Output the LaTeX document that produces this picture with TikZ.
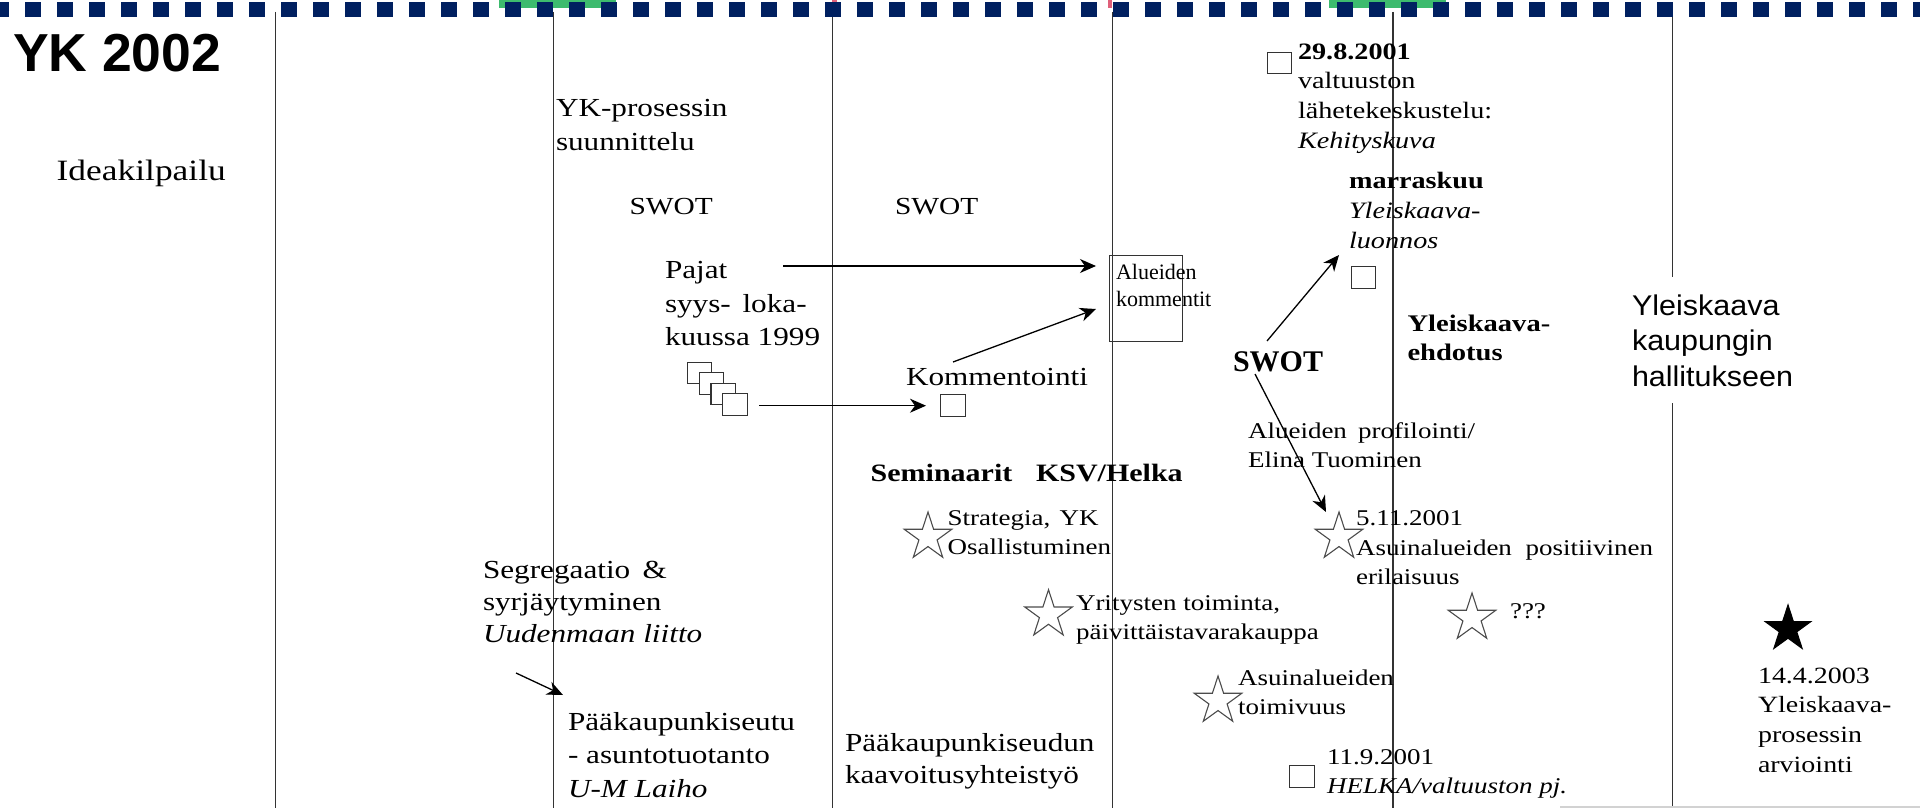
\documentclass[tikz,border=0pt]{standalone}
\usepackage{fontspec}
\setmainfont{Liberation Serif}[FakeStretch=1.2]
\newfontfamily\nrm{Liberation Serif}
\newfontfamily\ars{Liberation Sans}[FakeStretch=1.07]
\newfontfamily\arb{Liberation Sans}
\usetikzlibrary{arrows.meta,shapes.geometric}
\definecolor{navy}{HTML}{002060}
\definecolor{tabgreen}{HTML}{3DBB6E}
\definecolor{tabred}{HTML}{E0607A}
\definecolor{vline}{HTML}{333333}
\newcommand\fs[2]{\fontsize{#1pt}{#2pt}\selectfont}
\newcommand\vl[2]{\vtop{\baselineskip=#1pt\lineskiplimit=-100pt\lineskip=0pt #2}}
\tikzset{
  txt/.style={anchor=base west, inner sep=0pt, outer sep=0pt},
  colline/.style={draw=vline, line width=1.6pt},
  arr/.style={draw=black, line width=1.3pt, -{Stealth[length=16pt,width=14pt,inset=5pt]}},
  sqbox/.style={draw=black!80, line width=1.2pt, fill=white, minimum width=24.5pt, minimum height=21.5pt, inner sep=0pt, anchor=north west},
  ostar/.style={star, star points=5, star point ratio=2.618, minimum size=50pt, inner sep=0pt, draw=black!70, line width=1.1pt, fill=white},
  fstar/.style={ostar, fill=black, draw=black, minimum size=48pt},
  bigbox/.style={draw=black!80, line width=1.3pt, minimum width=73pt, minimum height=86pt, inner sep=0pt, anchor=north west}
}
\begin{document}
\begin{tikzpicture}[x=1pt,y=-1pt]
\useasboundingbox (0,0) rectangle (1920,808);
\fill[white] (0,0) rectangle (1920,808);
% top band
\fill[tabgreen] (499,0) rectangle (616,8.3);
\fill[tabgreen] (1329,0) rectangle (1446,8.3);
\fill[tabred] (1108,0) rectangle (1112,8);
\fill[tabred] (832,0) rectangle (837,3);
% column lines
\foreach \xx in {275.5,553.5,832.5,1112.5,1393} \draw[colline] (\xx,12) -- (\xx,808);
\draw[colline] (1672.5,12) -- (1672.5,277);
\draw[colline] (1672.5,403) -- (1672.5,808);
\foreach \k in {-1,...,59} \fill[navy] (24.5+32*\k,2) rectangle ++(16,15.5);
\draw[gray!35, line width=2pt] (1560,806.5) -- (1920,806.5);

% texts
\node[txt,font=\arb\bfseries\fs{53.5}{60}] (title) at (13,71.7) {YK 2002};
\node[txt,font=\fs{29.5}{34}] (idea) at (56.7,180) {Ideakilpailu};
\node[txt,font=\fs{26}{32}] (ykp) at (556,117) {\vl{33}{\hbox{YK-prosessin}\hbox{suunnittelu}}};
\node[txt,font=\fs{24.5}{30}] (swot1) at (629.5,214) {SWOT};
\node[txt,font=\fs{24.5}{30}] (swot2) at (895,214) {SWOT};
\node[txt,font=\fs{26}{32}] (pajat) at (665,278.3) {\vl{33.8}{\hbox{Pajat}\hbox{syys-\hspace{0.45em}loka-}\hbox{kuussa 1999}}};
\node[txt,font=\fs{26}{32}] (komm) at (906,385) {Kommentointi};

\node[bigbox] (box) at (1109,255) {};
\node[txt,font=\nrm\fs{22}{27}] (boxtxt) at (1116,279.3) {\vl{26.7}{\hbox{Alueiden}\hbox{kommentit}}};

\node[sqbox] (st1) at (686.6,361.7) {};
\node[sqbox] (st2) at (698.5,372.2) {};
\node[sqbox] (st3) at (710.4,382.7) {};
\node[sqbox] (st4) at (722.2,393.2) {};
\node[sqbox] (sqk) at (940,394) {};

\node[txt,font=\bfseries\fs{25}{30}] (sem) at (870.7,481.7) {\hbox to 312pt{Seminaarit\hfil KSV/Helka}};
\node[ostar] (star1) at (928,537) {};
\node[txt,font=\fs{22.5}{29}] (strat) at (947.7,525.7) {\vl{28.6}{\hbox to 151pt{Strategia,\hfil YK}\hbox{Osallistuminen}}};
\node[ostar] (star2) at (1048.5,614.7) {};
\node[txt,font=\fs{22.5}{29}] (yrit) at (1076,610) {\vl{29}{\hbox{Yritysten toiminta,}\hbox{päivittäistavarakauppa}}};
\node[ostar] (star3) at (1218,701) {};
\node[txt,font=\fs{22.5}{29}] (toimi) at (1238,685) {\vl{29}{\hbox{Asuinalueiden}\hbox{toimivuus}}};
\node[sqbox] (sq119) at (1289,765) {};
\node[txt,font=\fs{22.5}{29}] (helka) at (1327,764) {\vl{29}{\hbox{11.9.2001}\hbox{\itshape HELKA/valtuuston pj.}}};

\node[sqbox] (sq298) at (1266.6,51.7) {};
\node[txt,font=\fs{23.5}{29}] (d298) at (1298,59.3) {\vl{29.7}{\hbox{\bfseries 29.8.2001}\hbox{valtuuston}\hbox{lähetekeskustelu:}\hbox{\itshape Kehityskuva}}};
\node[txt,font=\fs{23.5}{29}] (marr) at (1349,188.3) {\vl{30}{\hbox{\bfseries marraskuu}\hbox{\itshape Yleiskaava-}\hbox{\itshape luonnos}}};
\node[sqbox] (sqm) at (1350.6,266) {};
\node[txt,font=\bfseries\fs{23.8}{29}] (ehd) at (1407.5,331.7) {\vl{28.5}{\hbox{Yleiskaava-}\hbox{ehdotus}}};
\node[txt,font=\nrm\bfseries\fs{30}{34}] (swot3) at (1233,371.7) {SWOT};
\node[txt,font=\fs{22.5}{29}] (prof) at (1248,438) {\vl{29}{\hbox to 227pt{Alueiden\hfil profilointi/}\hbox{Elina Tuominen}}};
\node[ostar] (star4) at (1339,537) {};
\node[txt,font=\fs{22.5}{29}] (d511) at (1356,525.7) {\vl{29.6}{\hbox{5.11.2001}\hbox to 297pt{Asuinalueiden\hfil positiivinen}\hbox{erilaisuus}}};
\node[ostar] (star5) at (1472,618) {};
\node[txt,font=\fs{22.5}{29}] (qqq) at (1510,618) {???};

\node[txt,font=\ars\fs{28.5}{34}] (hall) at (1632,315) {\vl{35.5}{\hbox{Yleiskaava}\hbox{kaupungin}\hbox{hallitukseen}}};
\node[fstar] (star6) at (1788,629) {};
\node[txt,font=\fs{23.3}{29}] (d144) at (1758,683) {\vl{29.7}{\hbox{14.4.2003}\hbox{Yleiskaava-}\hbox{prosessin}\hbox{arviointi}}};

\node[txt,font=\fs{26}{32}] (segr) at (483,578) {\vl{32}{\hbox to 184pt{Segregaatio\hfil\&}\hbox{syrjäytyminen}\hbox{\itshape Uudenmaan liitto}}};
\node[txt,font=\fs{26}{32}] (pks) at (568,730) {\vl{33.5}{\hbox{Pääkaupunkiseutu}\hbox{- asuntotuotanto}\hbox{\itshape U-M Laiho}}};
\node[txt,font=\fs{26}{32}] (pksd) at (845,751.7) {\vl{31.3}{\hbox{Pääkaupunkiseudun}\hbox{kaavoitusyhteistyö}}};

% connector ends
\coordinate (pajA) at (783,266);
\coordinate (komA) at (953,362);
\coordinate (boxB) at (1096,309);
\coordinate (stA) at (759,405.7);
\coordinate (swA) at (1267,341);
\coordinate (sqmB) at (1339,255);
\coordinate (swC) at (1255,374);
\coordinate (st4B) at (1326,512);
\coordinate (segA) at (516,673);
\coordinate (pksB) at (563,695);

\draw[arr, shorten >=13pt] (pajA) -- (box.west |- pajA);
\draw[arr] (komA) -- (boxB);
\draw[arr, shorten >=14pt] (stA) -- (sqk.west |- stA);
\draw[arr] (swA) -- (sqmB);
\draw[arr] (swC) -- (st4B);
\draw[arr] (segA) -- (pksB);
\end{tikzpicture}
\end{document}
